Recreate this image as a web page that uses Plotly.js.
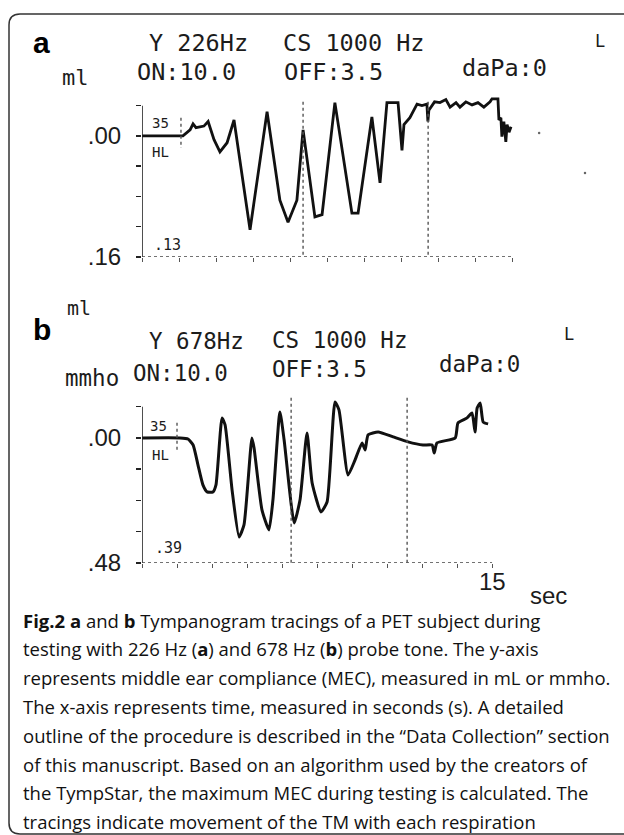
<!DOCTYPE html>
<html><head><meta charset="utf-8">
<script src="https://cdn.plot.ly/plotly-3.0.1.min.js"></script>
<style>html,body{margin:0;padding:0;background:#fff;}#chart{width:624px;height:835px;}</style>
</head><body><div id="chart"></div>
<script>
// ---- Data (time in seconds, MEC deflection; axis drawn downward-positive) ----
const timeA = [0, 1.66, 1.95, 2.07, 2.19, 2.35, 2.51, 2.68, 2.92, 3.16, 3.45, 3.73, 4.38, 5.07, 5.59, 5.92, 6.28, 6.53, 7.01, 7.30, 7.82, 8.51, 8.76, 9.32, 9.65, 9.93, 10.38, 10.54, 10.62, 10.86, 11.15, 11.35, 11.55, 11.59, 11.63, 11.86, 12.08, 12.32, 12.49, 12.73, 12.89, 13.13, 13.38, 13.62, 13.86, 14.11, 14.19, 14.43, 14.47, 14.55, 14.59, 14.67, 14.75, 14.80, 14.88, 14.96];
const mecA  = [0, 0, -0.008, -0.016, -0.011, -0.012, -0.013, -0.019, 0.005, 0.021, 0.009, -0.021, 0.124, -0.032, 0.085, 0.114, 0.085, -0.008, 0.107, 0.104, -0.044, 0.102, 0.102, -0.025, 0.062, -0.044, -0.044, 0.019, -0.015, -0.024, -0.042, -0.040, -0.042, -0.019, -0.034, -0.045, -0.044, -0.048, -0.038, -0.044, -0.038, -0.045, -0.041, -0.044, -0.038, -0.045, -0.049, -0.049, -0.021, -0.024, 0.001, -0.019, 0.008, -0.015, -0.005, -0.012];
const strayTimeA = [16.1, 17.96];
const strayMecA  = [-0.004, 0.049];

const timeB = [0, 1.63, 1.97, 2.19, 2.40, 2.61, 2.79, 3.04, 3.17, 3.43, 3.56, 3.86, 4.16, 4.37, 4.71, 4.80, 5.14, 5.44, 5.61, 5.91, 6.09, 6.52, 6.77, 7.07, 7.29, 7.67, 7.93, 8.27, 8.44, 8.83, 9.13, 9.43, 9.56, 9.69, 10.12, 10.76, 11.40, 12.04, 12.43, 12.52, 12.64, 13.42, 13.54, 13.93, 14.14, 14.27, 14.36, 14.49, 14.62, 14.83];
const mecB  = [0, 0, 0.004, 0.027, 0.104, 0.180, 0.207, 0.207, 0.180, -0.077, -0.050, 0.200, 0.380, 0.334, 0, 0.038, 0.276, 0.353, 0.238, -0.100, 0.008, 0.326, 0.238, -0.019, 0.173, 0.284, 0.246, -0.138, -0.108, 0.142, 0.084, 0.019, 0.046, -0.012, -0.023, -0.004, 0.015, 0.027, 0.027, 0.058, 0.019, 0, -0.058, -0.077, -0.096, -0.023, -0.115, -0.134, -0.061, -0.054];

const markersA = [1.58, 6.53, 11.6];
const markersB = [1.5, 6.39, 11.36];

const xTickVals = [0, 1.5, 3, 4.5, 6, 7.5, 9, 10.5, 12, 13.5, 15];
const xTickTextB = ['', '', '', '', '', '', '', '', '', '', '15'];
const yTickValsA = [-0.04, 0, 0.04, 0.08, 0.12, 0.16];
const yTickTextA = ['', '.00', '', '', '', '.16'];
const yTickValsB = [-0.12, 0, 0.12, 0.24, 0.36, 0.48];
const yTickTextB = ['', '.00', '', '', '', '.48'];

const headerA = {freq: 'Y 226Hz', cs: 'CS 1000 Hz', side: 'L', unit: 'ml', on: 'ON:10.0', off: 'OFF:3.5', dapa: 'daPa:0', inner: ['35', 'HL', '.13']};
const headerB = {freq: 'Y 678Hz', cs: 'CS 1000 Hz', side: 'L', unit: 'mmho', unit2: 'ml', on: 'ON:10.0', off: 'OFF:3.5', dapa: 'daPa:0', inner: ['35', 'HL', '.39']};
const timeUnit = 'sec';

const captionLines = [
  '<b>Fig.2 a</b> and <b>b</b> Tympanogram tracings of a PET subject during',
  'testing with 226 Hz (<b>a</b>) and 678 Hz (<b>b</b>) probe tone. The y-axis',
  'represents middle ear compliance (MEC), measured in mL or mmho.',
  'The x-axis represents time, measured in seconds (s). A detailed',
  'outline of the procedure is described in the \u201cData Collection\u201d section',
  'of this manuscript. Based on an algorithm used by the creators of',
  'the TympStar, the maximum MEC during testing is calculated. The',
  'tracings indicate movement of the TM with each respiration'
];

// ---- Layout helpers ----
const W = 624, H = 835;
const px = x => x / W;
const py = y => 1 - y / H;
const MONO = '"DejaVu Sans Mono", monospace';
const SANS = '"Liberation Sans", Arial, sans-serif';
const INK = '#1c1c1c';

function txt(text, x, y, size, opts) {
  return Object.assign({
    text: text, xref: 'paper', yref: 'paper', x: px(x), y: py(y),
    xanchor: 'left', yanchor: 'middle', showarrow: false,
    font: {family: MONO, size: size, color: INK}
  }, opts || {});
}

const traces = [
  {x: timeA, y: mecA, xaxis: 'x', yaxis: 'y', mode: 'lines', line: {color: '#111', width: 2.8}, hoverinfo: 'skip'},
  {x: strayTimeA, y: strayMecA, xaxis: 'x', yaxis: 'y', mode: 'markers', marker: {color: '#666', size: 2.5}, hoverinfo: 'skip'},
  {x: timeB, y: mecB, xaxis: 'x2', yaxis: 'y2', mode: 'lines', line: {color: '#111', width: 3, shape: 'spline', smoothing: 0.5}, hoverinfo: 'skip'}
];

function xAxis(domain, range, anchor) {
  return {domain: domain, range: range, anchor: anchor, showgrid: false, zeroline: false, showline: false,
    tickmode: 'array', tickvals: xTickVals, showticklabels: false, ticks: 'outside', ticklen: 4, tickwidth: 1, tickcolor: '#555',
    fixedrange: true};
}
function yAxis(domain, range, vals, text, anchor) {
  return {domain: domain, range: range, anchor: anchor, showgrid: false, zeroline: false, showline: false,
    tickmode: 'array', tickvals: vals, ticktext: text, ticks: 'outside', ticklen: 5, tickwidth: 1.5, tickcolor: '#222',
    ticklabelstandoff: 10, tickfont: {family: SANS, size: 24, color: INK}, fixedrange: true};
}

const shapes = [];
// rounded frame
shapes.push({type: 'path', xref: 'paper', yref: 'paper',
  path: `M ${px(640)} ${py(834)} L ${px(20)} ${py(834)} Q ${px(9)} ${py(834)} ${px(9)} ${py(823)} L ${px(9)} ${py(25)} Q ${px(9)} ${py(14)} ${px(20)} ${py(14)} L ${px(640)} ${py(14)}`,
  line: {color: '#333', width: 1.5}});
// axes lines
function axisShapes(xa, ya, yTop, yBot) {
  shapes.push({type: 'line', xref: xa, yref: ya, x0: 0, x1: 0, y0: yTop, y1: yBot, line: {color: '#222', width: 1.6}});
  shapes.push({type: 'line', xref: xa, yref: ya, x0: 0, x1: 15, y0: yBot, y1: yBot, line: {color: '#444', width: 1.6, dash: 'dot'}});
}
axisShapes('x', 'y', yTickValsA[0], yTickValsA[5]);
axisShapes('x2', 'y2', yTickValsB[0], yTickValsB[5]);
// marker lines
markersA.forEach((t, i) => shapes.push({type: 'line', xref: 'x', yref: 'y', x0: t, x1: t,
  y0: i === 0 ? -0.024 : -0.045, y1: i === 0 ? 0.016 : 0.16, line: {color: '#555', width: 1.4, dash: 'dot'}}));
markersB.forEach((t, i) => shapes.push({type: 'line', xref: 'x2', yref: 'y2', x0: t, x1: t,
  y0: i === 0 ? -0.058 : -0.154, y1: i === 0 ? 0.054 : 0.48, line: {color: '#555', width: 1.4, dash: 'dot'}}));

const annotations = [
  // panel a header
  txt('a', 31, 42, 30, {font: {family: SANS, size: 30, color: '#000', weight: 'bold'}}),
  txt(headerA.freq, 147, 43, 23.5),
  txt(headerA.cs, 281, 43, 23.5),
  txt(headerA.side, 593, 41, 17),
  txt(headerA.unit, 60, 77, 22),
  txt(headerA.on, 135, 72, 23.5),
  txt(headerA.off, 282, 72, 23.5),
  txt(headerA.dapa, 460, 68, 23.5),
  txt(headerA.inner[0], 150, 123, 14),
  txt(headerA.inner[1], 150, 152, 14),
  txt(headerA.inner[2], 152, 245, 15),
  // panel b header
  txt(headerB.unit2, 65, 308, 20),
  txt('b', 31, 329, 30, {font: {family: SANS, size: 30, color: '#000', weight: 'bold'}}),
  txt(headerB.freq, 147, 341, 22.5),
  txt(headerB.cs, 270, 340, 22.5),
  txt(headerB.side, 562, 334, 17),
  txt(headerB.unit, 63, 378, 22.5),
  txt(headerB.on, 131, 373, 22.5),
  txt(headerB.off, 270, 369, 22.5),
  txt(headerB.dapa, 437, 364, 22.5),
  txt(headerB.inner[0], 148, 426, 14),
  txt(headerB.inner[1], 150, 455, 14),
  txt(headerB.inner[2], 153, 548, 15),
  txt(timeUnit, 528, 595, 24, {font: {family: SANS, size: 24, color: INK}})
];
// x tick label(s) for panel b, placed under the axis
xTickVals.forEach((v, i) => { if (xTickTextB[i]) annotations.push({
  text: xTickTextB[i], xref: 'x2', yref: 'paper', x: v, y: py(581), xanchor: 'center', yanchor: 'middle',
  showarrow: false, font: {family: SANS, size: 24, color: INK}}); });
captionLines.forEach((line, i) => annotations.push(
  txt(line, 21, 620 + 28.8 * i, 18.5, {font: {family: '"Open Sans", sans-serif', size: 18.5, color: '#111'}})));

const layout = {
  width: W, height: H, margin: {l: 0, r: 0, t: 0, b: 0},
  paper_bgcolor: '#fff', plot_bgcolor: 'rgba(0,0,0,0)', showlegend: false,
  xaxis: xAxis([px(142), px(623)], [0, 19.5], 'y'),
  yaxis: yAxis([py(257), py(89)], [0.16, -0.062], yTickValsA, yTickTextA, 'x'),
  xaxis2: xAxis([px(142), px(623)], [0, 20.61], 'y2'),
  yaxis2: yAxis([py(563), py(396.3)], [0.48, -0.16], yTickValsB, yTickTextB, 'x2'),
  shapes: shapes, annotations: annotations
};

Plotly.newPlot('chart', traces, layout, {staticPlot: true, displayModeBar: false});
</script></body></html>
